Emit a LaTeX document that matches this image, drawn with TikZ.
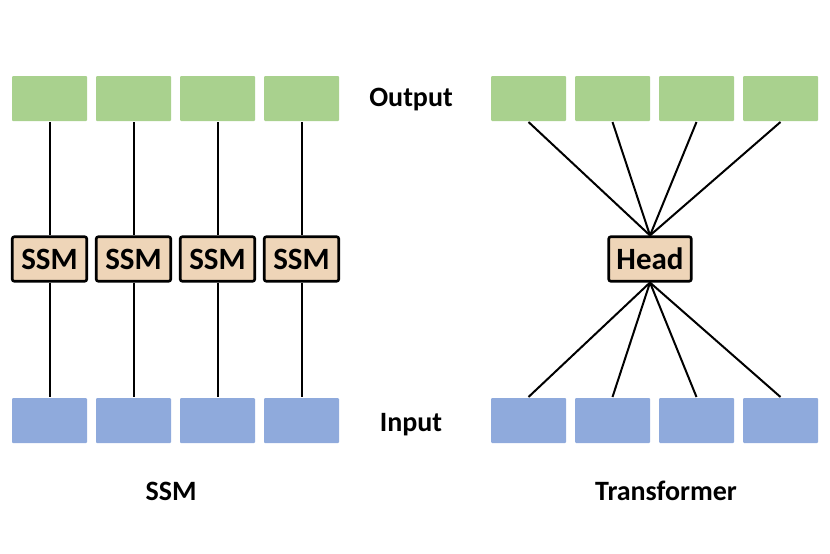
\documentclass[tikz,border=0pt]{standalone}
\usepackage{fontspec}
\setmainfont{Carlito}
\usetikzlibrary{positioning}

\definecolor{outgreen}{RGB}{169,209,142}
\definecolor{inblue}{RGB}{143,170,220}
\definecolor{peach}{RGB}{238,213,184}

\begin{document}
\begin{tikzpicture}
		[x=1pt, y=-1pt, node distance={84pt}, line width=2pt,
		 tok/.style = {minimum width=75pt, minimum height=45pt, inner sep=0pt, rounded corners=1pt},
		 outbox/.style = {tok, fill=outgreen},
		 inbox/.style = {tok, fill=inblue},
		 ssmbox/.style = {draw, line width=2.6pt, fill=peach, rounded corners=2pt, inner sep=0pt,
		   minimum width=74.5pt, minimum height=44.5pt, font=\bfseries\fontsize{31}{37}\selectfont},
		 lbl/.style = {anchor=base, font=\bfseries\fontsize{28}{34}\selectfont}]
	\useasboundingbox (0,0) rectangle (830,554);
	% SSM side
	\node[outbox] (o1) at (49.5,98.5) {};
	\node[outbox] (o2) [right of = o1] {};
	\node[outbox] (o3) [right of = o2] {};
	\node[outbox] (o4) [right of = o3] {};
	\node[ssmbox] (s1) at (49.5,259) {SSM};
	\node[ssmbox] (s2) [right of = s1] {SSM};
	\node[ssmbox] (s3) [right of = s2] {SSM};
	\node[ssmbox] (s4) [right of = s3] {SSM};
	\node[inbox] (i1) at (49.5,420.5) {};
	\node[inbox] (i2) [right of = i1] {};
	\node[inbox] (i3) [right of = i2] {};
	\node[inbox] (i4) [right of = i3] {};
	\foreach \k in {1,...,4} {
		\draw (o\k) -- (s\k);
		\draw (s\k) -- (i\k);
	}
	% Transformer side
	\node[outbox] (p1) at (528.5,98.5) {};
	\node[outbox] (p2) [right of = p1] {};
	\node[outbox] (p3) [right of = p2] {};
	\node[outbox] (p4) [right of = p3] {};
	\node[ssmbox, minimum width=82.5pt] (head) at (650,259) {Head};
	\node[inbox] (q1) at (528.5,420.5) {};
	\node[inbox] (q2) [right of = q1] {};
	\node[inbox] (q3) [right of = q2] {};
	\node[inbox] (q4) [right of = q3] {};
	\foreach \k in {1,...,4} {
		\draw (head.north) -- (p\k.south);
		\draw (head.south) -- (q\k.north);
	}
	% labels
	\node[lbl] (outlbl) at (411,106.7) {Output};
	\node[lbl] (inlbl) at (411,431) {Input};
	\node[lbl] (ssmlbl) at (171,500) {SSM};
	\node[lbl] (trflbl) at (666,500) {Transformer};
\end{tikzpicture}
\end{document}
